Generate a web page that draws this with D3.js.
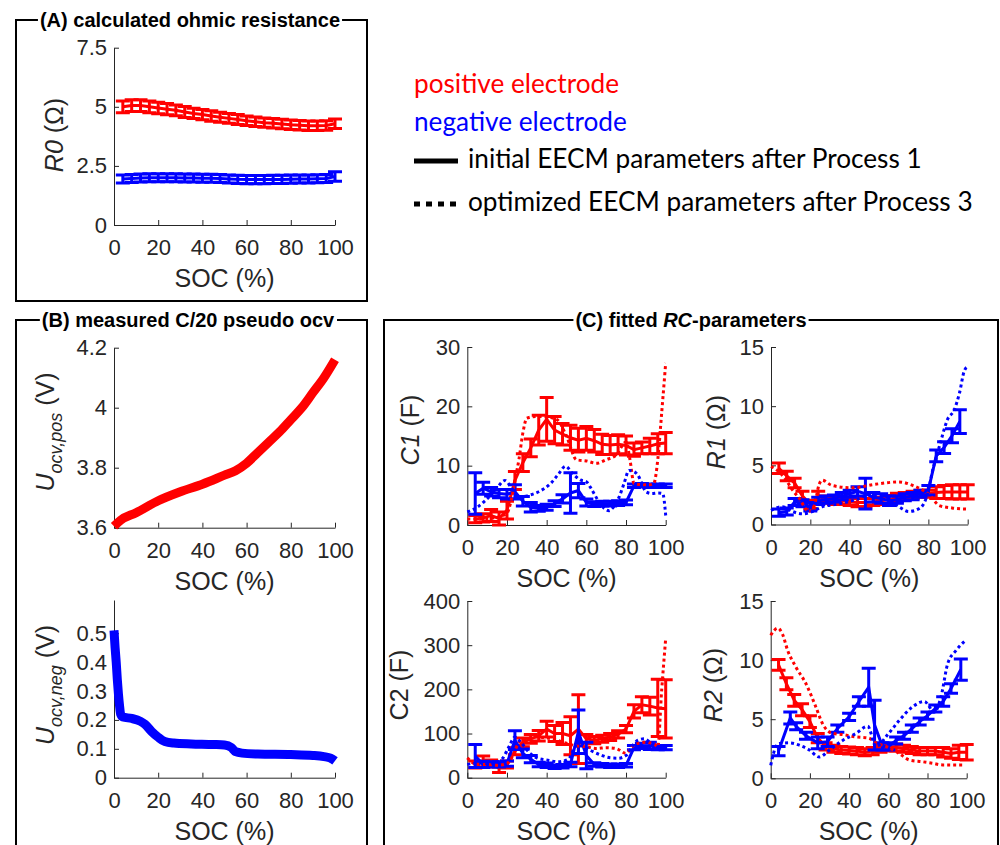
<!DOCTYPE html>
<html>
<head>
<meta charset="utf-8">
<script src="https://cdn.jsdelivr.net/npm/d3@7/dist/d3.min.js"></script>
<style>
  body { margin: 0; background: #fff; }
</style>
</head>
<body>
<div id="chart"></div>
<script>
// ---- data ----
const socTicks = [0, 20, 40, 60, 80, 100]
const socGrid = [4, 8, 12, 16, 20, 24, 28, 32, 36, 40, 44, 48, 52, 56, 60, 64, 68, 72, 76, 80, 84, 88, 92, 96, 100]

// (A) ohmic resistance
const r0Pos = [5.00, 5.05, 5.05, 5.00, 4.95, 4.90, 4.85, 4.78, 4.72, 4.67, 4.61, 4.56, 4.51, 4.46, 4.41, 4.37, 4.33, 4.30, 4.27, 4.24, 4.22, 4.20, 4.20, 4.21, 4.28]
const r0PosErr = [0.25, 0.25, 0.25, 0.25, 0.24, 0.24, 0.23, 0.23, 0.22, 0.22, 0.22, 0.21, 0.21, 0.21, 0.2, 0.2, 0.2, 0.2, 0.2, 0.2, 0.2, 0.2, 0.2, 0.2, 0.2]
const r0Neg = [1.95, 1.97, 1.99, 2.00, 2.00, 2.00, 2.00, 1.99, 1.99, 1.98, 1.98, 1.97, 1.95, 1.93, 1.92, 1.92, 1.92, 1.93, 1.93, 1.94, 1.95, 1.95, 1.96, 1.97, 2.05]
const r0NegErr = [0.17, 0.17, 0.17, 0.17, 0.17, 0.17, 0.17, 0.17, 0.17, 0.17, 0.17, 0.17, 0.17, 0.17, 0.17, 0.17, 0.17, 0.17, 0.17, 0.17, 0.17, 0.17, 0.17, 0.17, 0.2]

// (B) pseudo ocv
const ocvPosSoc = [0, 3, 10, 20, 30, 40, 50, 55, 60, 65, 70, 75, 80, 85, 90, 95, 100]
const ocvPos = [3.605, 3.625, 3.65, 3.69, 3.72, 3.745, 3.775, 3.79, 3.815, 3.85, 3.885, 3.92, 3.96, 4.0, 4.05, 4.1, 4.16]
const ocvNegSoc = [0, 0.5, 1, 1.5, 2, 2.5, 3, 4, 8, 12, 14, 17, 20, 23, 27, 35, 45, 50, 53, 55, 58, 65, 80, 90, 95, 98, 100]
const ocvNeg = [0.51, 0.45, 0.4, 0.34, 0.29, 0.25, 0.22, 0.21, 0.205, 0.195, 0.185, 0.16, 0.14, 0.125, 0.12, 0.117, 0.115, 0.113, 0.105, 0.09, 0.085, 0.082, 0.08, 0.077, 0.073, 0.068, 0.058]

// (C) C1
const c1Pos = [1.0, 1.2, 1.6, 1.1, 2.5, 7.5, 10.5, 13.0, 16.0, 17.8, 16.0, 15.3, 14.7, 14.3, 14.6, 14.2, 13.6, 13.5, 13.6, 13.4, 12.7, 13.0, 13.3, 13.7, 13.8]
const c1PosErr = [0.6, 0.7, 1.0, 1.1, 1.5, 1.5, 1.5, 1.5, 2.5, 3.7, 2.3, 1.8, 2.1, 2.0, 2.0, 1.9, 1.7, 1.6, 1.6, 1.6, 1.1, 1.0, 1.3, 1.7, 1.8]
const c1Neg = [5.3, 6.2, 5.6, 5.3, 5.2, 5.6, 4.0, 3.0, 2.8, 3.0, 3.6, 4.4, 5.4, 5.8, 3.8, 3.5, 3.6, 3.6, 3.7, 3.8, 6.6, 6.7, 6.6, 6.6, 6.6]
const c1NegErr = [3.5, 1.0, 0.7, 0.7, 0.8, 1.2, 0.8, 0.8, 0.5, 0.5, 0.5, 0.7, 3.4, 1.2, 0.6, 0.4, 0.4, 0.4, 0.4, 0.4, 0.3, 0.3, 0.3, 0.3, 0.3]
const c1PosOptSoc = [0, 5, 10, 15, 20, 22, 24, 26, 28, 30, 35, 40, 45, 50, 55, 60, 65, 70, 75, 80, 82, 84, 88, 92, 94, 96, 98, 100]
const c1PosOpt = [1.0, 1.0, 1.1, 1.3, 2.0, 4.0, 7.5, 11, 15.5, 18, 18.3, 18.2, 17.8, 15, 11, 10.8, 10.4, 11, 11.8, 14, 11, 7, 6.8, 6.8, 7, 11, 19, 27.3]
const c1NegOptSoc = [0, 5, 9, 14, 19, 22, 26, 31, 36, 42, 46, 49.5, 53, 57, 60, 63, 66, 69, 71.5, 74, 76.5, 79, 81.5, 84, 86, 88, 90, 93, 96, 98.5, 100]
const c1NegOpt = [2.2, 3.0, 4.1, 5.8, 7.5, 6.4, 4.7, 5.0, 5.6, 7.0, 8.6, 9.9, 8.7, 7.6, 7.3, 5.8, 4.1, 2.8, 2.4, 3.2, 4.7, 7.0, 9.2, 9.0, 8.4, 7.0, 5.6, 5.3, 5.4, 5.3, 1.6]

// (C) R1
const r1Pos = [4.75, 4.1, 3.5, 2.4, 1.7, 2.4, 2.1, 2.0, 2.0, 1.9, 1.85, 1.85, 1.9, 2.0, 2.1, 2.3, 2.4, 2.5, 2.6, 2.6, 2.7, 2.75, 2.75, 2.75, 2.75]
const r1PosErr = [0.45, 0.4, 0.4, 0.4, 0.35, 0.4, 0.3, 0.3, 0.3, 0.3, 0.35, 0.35, 0.3, 0.3, 0.35, 0.35, 0.3, 0.3, 0.3, 0.3, 0.5, 0.55, 0.6, 0.6, 0.6]
const r1NegSoc = [4, 8, 12, 16, 20, 24, 28, 32, 36, 40, 44, 48, 52, 56, 60, 64, 68, 72, 76, 80, 84, 88, 92, 96]
const r1Neg = [1.0, 1.1, 1.9, 1.8, 1.5, 2.0, 2.1, 2.2, 2.4, 2.6, 2.8, 2.6, 2.3, 2.2, 2.0, 2.1, 2.3, 2.4, 2.6, 2.9, 5.8, 6.5, 7.5, 8.7]
const r1NegErr = [0.3, 0.3, 0.3, 0.3, 0.35, 0.3, 0.3, 0.3, 0.3, 0.3, 0.4, 1.3, 0.4, 0.4, 0.4, 0.3, 0.3, 0.3, 0.3, 0.4, 0.5, 0.5, 0.6, 1.0]
const r1PosOptSoc = [0, 3, 7.5, 11, 14, 19.4, 22, 24.5, 26, 31, 41, 53, 65, 72, 80.5, 85.6, 92, 100]
const r1PosOpt = [4.9, 4.6, 3.8, 2.9, 2.3, 1.1, 1.6, 3.4, 3.75, 3.3, 3.1, 3.4, 3.6, 3.3, 2.5, 1.6, 1.4, 1.3]
const r1NegOptSoc = [0, 5.8, 10.9, 16, 21, 26, 33, 43, 50, 58, 65, 70, 75.4, 79.6, 82.2, 85.6, 89.8, 93.2, 95.8, 98.3, 99.7]
const r1NegOpt = [1.2, 1.5, 1.1, 0.9, 1.1, 1.5, 1.7, 2.1, 2.5, 2.35, 1.5, 1.1, 1.35, 2.6, 4.6, 6.6, 8.9, 9.7, 11.1, 13.0, 13.3]

// (C) C2
const c2Pos = [30, 37, 32, 22, 30, 60, 80, 88, 95, 110, 100, 100, 95, 110, 88, 85, 88, 92, 98, 110, 150, 165, 162, 158, 156]
const c2PosErr = [8, 12, 8, 10, 8, 8, 10, 10, 12, 18, 18, 25, 43, 78, 10, 8, 8, 8, 8, 8, 15, 18, 20, 65, 66]
const c2Neg = [49, 30, 30, 30, 32, 85, 55, 42, 30, 28, 25, 26, 30, 104, 50, 30, 28, 27, 27, 28, 68, 72, 72, 68, 68]
const c2NegErr = [26, 7, 6, 6, 6, 21, 10, 8, 5, 5, 4, 4, 5, 49, 30, 4, 4, 4, 4, 4, 5, 6, 8, 5, 5]
const c2PosOptSoc = [0, 5, 10, 15, 20, 23, 26, 30, 35, 40, 45, 50, 55, 60, 65, 70, 75, 80, 83, 86, 90, 94, 96, 98, 100]
const c2PosOpt = [45, 30, 30, 28, 32, 50, 80, 88, 92, 90, 85, 78, 72, 70, 66, 68, 66, 55, 70, 78, 80, 77, 70, 200, 315]
const c2NegOptSoc = [0, 5, 10, 15, 18, 21, 24, 27, 31, 35, 40, 46, 51, 55, 58, 62, 68, 72, 76, 80, 83, 86, 89, 93, 97, 100]
const c2NegOpt = [30, 33, 32, 35, 45, 70, 92, 80, 58, 45, 40, 36, 42, 72, 72, 62, 50, 45, 44, 50, 70, 85, 88, 78, 70, 66]

// (C) R2
const r2Pos = [9.6, 8.0, 6.6, 5.8, 4.8, 3.4, 2.7, 2.5, 2.4, 2.35, 2.3, 2.2, 2.3, 2.5, 2.6, 2.6, 2.5, 2.4, 2.3, 2.3, 2.3, 2.2, 2.1, 2.2, 2.2]
const r2PosErr = [0.45, 0.5, 0.5, 0.5, 0.5, 0.4, 0.3, 0.3, 0.3, 0.3, 0.3, 0.3, 0.3, 0.3, 0.3, 0.3, 0.3, 0.3, 0.3, 0.3, 0.3, 0.4, 0.4, 0.6, 0.65]
const r2NegSoc = [4, 10, 13, 18, 24, 29, 34, 40, 45, 50, 53, 57, 60, 64, 68, 72, 76, 80, 84, 88, 92, 97]
const r2Neg = [2.3, 5.1, 4.4, 3.6, 3.0, 3.1, 4.2, 5.2, 6.5, 7.7, 4.5, 2.7, 2.7, 3.2, 3.6, 4.2, 4.8, 5.3, 5.9, 6.5, 7.6, 9.2]
const r2NegErr = [0.4, 0.5, 0.3, 0.3, 0.5, 0.4, 0.3, 0.3, 0.4, 1.6, 2.1, 0.3, 0.3, 0.3, 0.3, 0.3, 0.3, 0.3, 0.3, 0.4, 0.4, 0.9]
const r2PosOptSoc = [0, 3.6, 6, 8.7, 12.9, 18, 23, 26.5, 31.6, 36.7, 43.5, 50, 53.7, 58.8, 65.6, 70.7, 77.5, 82.6, 87.8, 98]
const r2PosOpt = [12.1, 12.7, 12.2, 10.8, 9.4, 8.0, 6.05, 4.6, 3.8, 3.7, 3.5, 3.4, 3.0, 2.7, 2.1, 1.55, 1.4, 1.27, 1.13, 1.13]
const r2NegOptSoc = [0, 2.7, 4.4, 9.5, 14.6, 19.7, 24.8, 30, 36.7, 43.5, 49.5, 53.7, 59.7, 65.6, 72.4, 78.4, 83.5, 86.9, 90.3, 94.5, 99.7]
const r2NegOpt = [1.1, 2.7, 2.95, 3.0, 2.8, 2.4, 1.8, 2.4, 3.2, 3.8, 4.4, 2.7, 3.7, 4.9, 6.05, 6.5, 5.6, 6.9, 9.7, 10.8, 11.7]

const legendItems = ['positive electrode', 'negative electrode', 'initial EECM parameters after Process 1', 'optimized EECM parameters after Process 3']

// ---- drawing ----
const RED = '#ff0000'
const BLUE = '#0000ff'
const INK = '#262626'
const axisFont = 'Liberation Sans, Arial, sans-serif'

const svg = d3.select('#chart')
  .append('svg')
  .attr('width', 1000)
  .attr('height', 845)
  .style('background', '#fff')

function frame(x0, y0, x1, y1, parts, cx) {
  const g = svg.append('g')
  const t = g.append('text')
    .attr('x', cx)
    .attr('y', y0 + 7)
    .attr('text-anchor', 'middle')
    .attr('font-family', axisFont)
    .attr('font-weight', 'bold')
    .attr('font-size', 20)
    .attr('fill', '#000')
  parts.forEach(p => t.append('tspan').attr('font-style', p.italic ? 'italic' : null).text(p.text))
  const bb = t.node().getBBox()
  g.append('path')
    .attr('d', `M${bb.x - 2},${y0}H${x0}V${y1}H${x1}V${y0}H${bb.x + bb.width + 2}`)
    .attr('fill', 'none')
    .attr('stroke', '#000')
    .attr('stroke-width', 2)
}

function panel({ left, right, top, bottom, yDomain, yTicks }) {
  const x = d3.scaleLinear().domain([0, 100]).range([left, right])
  const y = d3.scaleLinear().domain(yDomain).range([bottom, top])
  const g = svg.append('g')

  const xAxis = g.append('g')
    .attr('transform', `translate(0,${bottom})`)
    .call(d3.axisBottom(x).tickValues(socTicks).tickFormat(d => String(d)).tickSizeInner(-5).tickSizeOuter(0).tickPadding(14.5))
  const yAxis = g.append('g')
    .attr('transform', `translate(${left},0)`)
    .call(d3.axisLeft(y).tickValues(yTicks).tickFormat(d => String(d)).tickSizeInner(-5).tickSizeOuter(0).tickPadding(7))

  ;[xAxis, yAxis].forEach(a => {
    a.attr('font-family', axisFont).attr('font-size', 22)
    a.select('.domain').attr('stroke', INK)
    a.selectAll('.tick line').attr('stroke', INK)
    a.selectAll('.tick text').attr('fill', INK)
  })

  g.append('text')
    .attr('x', (left + right) / 2)
    .attr('y', bottom + 62)
    .attr('text-anchor', 'middle')
    .attr('font-family', axisFont)
    .attr('font-size', 25)
    .attr('fill', INK)
    .text('SOC (%)')

  const marks = g.append('g')
  return { x, y, g, marks }
}

function yLabel(p, parts, bx, cy) {
  const t = p.g.append('text')
    .attr('transform', `translate(${bx},${cy}) rotate(-90)`)
    .attr('text-anchor', 'middle')
    .attr('font-family', axisFont)
    .attr('font-size', 25)
    .attr('fill', INK)
  parts.forEach(s => {
    const ts = t.append('tspan').text(s.text)
    if (s.italic) ts.attr('font-style', 'italic')
    if (s.sub) ts.attr('font-size', 18).attr('dy', 8)
    if (s.after) ts.attr('dy', -8)
  })
}

function errorbars(p, soc, mean, err, color) {
  const pts = soc.map((s, i) => ({ s, m: mean[i], e: err[i] }))
  const g = p.marks.append('g')
    .attr('stroke', color)
    .attr('stroke-width', 3)
    .attr('fill', 'none')
  g.append('path')
    .attr('d', d3.line().x(d => p.x(d.s)).y(d => p.y(d.m))(pts))
  g.selectAll('.bar')
    .data(pts)
    .join('path')
    .attr('class', 'bar')
    .attr('d', d => {
      const cx = p.x(d.s)
      const lo = p.y(d.m - d.e)
      const hi = p.y(d.m + d.e)
      return `M${cx},${lo}V${hi}M${cx - 7},${lo}h14M${cx - 7},${hi}h14`
    })
}

function dotted(p, soc, vals, color) {
  p.marks.append('path')
    .datum(soc.map((s, i) => [s, vals[i]]))
    .attr('d', d3.line().x(d => p.x(d[0])).y(d => p.y(d[1])).curve(d3.curveMonotoneX))
    .attr('fill', 'none')
    .attr('stroke', color)
    .attr('stroke-width', 3)
    .attr('stroke-dasharray', '3,3')
}

function band(p, soc, vals, color) {
  p.marks.append('path')
    .datum(soc.map((s, i) => [s, vals[i]]))
    .attr('d', d3.line().x(d => p.x(d[0])).y(d => p.y(d[1])).curve(d3.curveMonotoneX))
    .attr('fill', 'none')
    .attr('stroke', color)
    .attr('stroke-width', 9)
    .attr('stroke-linejoin', 'round')
}

// frames
frame(16, 20, 367, 301, [{ text: '(A) calculated ohmic resistance' }], 190)
frame(16, 320, 367, 860, [{ text: '(B) measured C/20 pseudo ocv' }], 188)
frame(384, 320, 998, 860, [{ text: '(C) fitted ' }, { text: 'RC', italic: true }, { text: '-parameters' }], 691)

// (A)
const pA = panel({ left: 114, right: 335, top: 47.7, bottom: 225, yDomain: [0, 7.5], yTicks: [0, 2.5, 5, 7.5] })
yLabel(pA, [{ text: 'R0', italic: true }, { text: ' (Ω)' }], 63, 135)
errorbars(pA, socGrid, r0Pos, r0PosErr, RED)
errorbars(pA, socGrid, r0Neg, r0NegErr, BLUE)

// (B)
const pB1 = panel({ left: 114, right: 335, top: 347.7, bottom: 527.7, yDomain: [3.6, 4.2], yTicks: [3.6, 3.8, 4, 4.2] })
yLabel(pB1, [{ text: 'U', italic: true }, { text: 'ocv,pos', italic: true, sub: true }, { text: ' (V)', after: true }], 54, 432)
band(pB1, ocvPosSoc, ocvPos, RED)

const pB2 = panel({ left: 114, right: 335, top: 600, bottom: 777.7, yDomain: [0, 0.615], yTicks: [0, 0.1, 0.2, 0.3, 0.4, 0.5] })
yLabel(pB2, [{ text: 'U', italic: true }, { text: 'ocv,neg', italic: true, sub: true }, { text: ' (V)', after: true }], 54, 685)
band(pB2, ocvNegSoc, ocvNeg, BLUE)

// (C)
const pC1 = panel({ left: 467.3, right: 665.7, top: 347, bottom: 525, yDomain: [0, 30], yTicks: [0, 10, 20, 30] })
yLabel(pC1, [{ text: 'C1', italic: true }, { text: ' (F)' }], 419, 430)
errorbars(pC1, socGrid, c1Pos, c1PosErr, RED)
errorbars(pC1, socGrid, c1Neg, c1NegErr, BLUE)
dotted(pC1, c1PosOptSoc, c1PosOpt, RED)
dotted(pC1, c1NegOptSoc, c1NegOpt, BLUE)

const pR1 = panel({ left: 771, right: 967.7, top: 347, bottom: 524.5, yDomain: [0, 15], yTicks: [0, 5, 10, 15] })
yLabel(pR1, [{ text: 'R1', italic: true }, { text: ' (Ω)' }], 725, 432)
errorbars(pR1, socGrid, r1Pos, r1PosErr, RED)
errorbars(pR1, r1NegSoc, r1Neg, r1NegErr, BLUE)
dotted(pR1, r1PosOptSoc, r1PosOpt, RED)
dotted(pR1, r1NegOptSoc, r1NegOpt, BLUE)

const pC2 = panel({ left: 467.3, right: 665.7, top: 601, bottom: 777.7, yDomain: [0, 400], yTicks: [0, 100, 200, 300, 400] })
yLabel(pC2, [{ text: 'C2 (F)' }], 408, 685)
errorbars(pC2, socGrid, c2Pos, c2PosErr, RED)
errorbars(pC2, socGrid, c2Neg, c2NegErr, BLUE)
dotted(pC2, c2PosOptSoc, c2PosOpt, RED)
dotted(pC2, c2NegOptSoc, c2NegOpt, BLUE)

const pR2 = panel({ left: 770.7, right: 966.7, top: 601, bottom: 778.3, yDomain: [0, 15], yTicks: [0, 5, 10, 15] })
yLabel(pR2, [{ text: 'R2', italic: true }, { text: ' (Ω)' }], 722, 685)
errorbars(pR2, socGrid, r2Pos, r2PosErr, RED)
errorbars(pR2, r2NegSoc, r2Neg, r2NegErr, BLUE)
dotted(pR2, r2PosOptSoc, r2PosOpt, RED)
dotted(pR2, r2NegOptSoc, r2NegOpt, BLUE)

// legend
const legend = svg.append('g').attr('font-family', 'Lato, Carlito, sans-serif')
const legendRows = [
  { y: 93, color: RED, x: 414 },
  { y: 131, color: BLUE, x: 414 },
  { y: 168, color: '#000', x: 468, sym: 'solid' },
  { y: 211, color: '#000', x: 468, sym: 'dot' }
]
const legendText = legend.selectAll('text')
  .data(legendRows)
  .join('text')
  .attr('x', d => d.x)
  .attr('y', d => d.y)
  .attr('fill', d => d.color)
  .attr('font-size', 100)
  .text((d, i) => legendItems[i])
// fit font size so the long line spans like in the figure
const fullW = legendText.filter((d, i) => i === 2).node().getComputedTextLength()
const legendSize = 100 * 454 / fullW
legendText.attr('font-size', legendSize)

legend.selectAll('.sym')
  .data(legendRows.filter(d => d.sym))
  .join('line')
  .attr('class', 'sym')
  .attr('x1', 414)
  .attr('x2', 458)
  .attr('y1', d => d.y - 7)
  .attr('y2', d => d.y - 7)
  .attr('stroke', '#000')
  .attr('stroke-width', 5)
  .attr('stroke-dasharray', d => d.sym === 'dot' ? '6,6' : null)
</script>
</body>
</html>
